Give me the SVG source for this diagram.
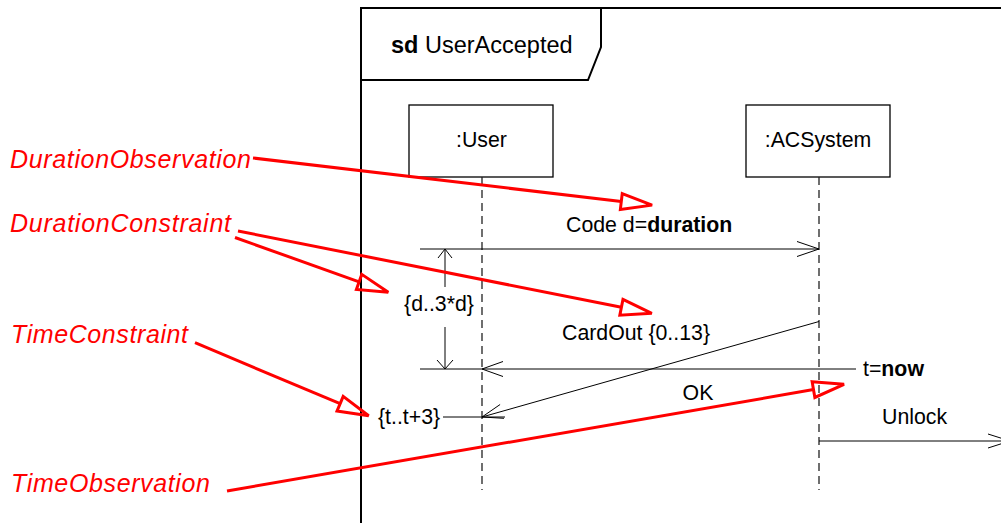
<svg xmlns="http://www.w3.org/2000/svg" width="1001" height="523" viewBox="0 0 1001 523">
<style>
.frame{fill:none;stroke:#000;stroke-width:2}
.box{fill:#fff;stroke:#000;stroke-width:1.3}
.life{stroke:#222;stroke-width:1.3;stroke-dasharray:8,5;fill:none}
.msg{stroke:#000;stroke-width:1;fill:none}
.t{font-family:"Liberation Sans",Arial,sans-serif;font-size:21.3px;fill:#000}
.b{font-weight:bold}
.note{font-family:"Liberation Sans",Arial,sans-serif;font-size:25px;font-style:italic;fill:#ff0000}
.red{stroke:#ff0000;stroke-width:3;fill:none;marker-end:url(#tri)}
</style>
<defs>
<marker id="tri" markerUnits="userSpaceOnUse" orient="auto" refX="0" refY="0" markerWidth="60" markerHeight="40" viewBox="-5 -20 60 40" overflow="visible">
<path d="M0,-8 L31,0 L0,8 Z" fill="none" stroke="#ff0000" stroke-width="3"/>
</marker>
</defs>
<rect width="1001" height="523" fill="#fff"/>
<g id="frame">
<path class="frame" d="M361,523 L361,8 L1001,8"/>
<path class="frame" d="M361,80 L588,80 L601,47 L601,8"/>
<text class="t" x="391" y="53" style="font-size:23.5px"><tspan class="b">sd</tspan> UserAccepted</text>
</g>
<g id="user">
<rect class="box" x="409" y="105" width="144" height="72"/>
<text class="t" x="481.5" y="147" text-anchor="middle">:User</text>
<line class="life" x1="482" y1="177" x2="482" y2="490"/>
</g>
<g id="acsystem">
<rect class="box" x="746" y="105" width="144" height="72"/>
<text class="t" x="818" y="147" text-anchor="middle">:ACSystem</text>
<line class="life" x1="819" y1="177" x2="819" y2="490"/>
</g>
<g id="connectors">
<line class="msg" x1="420" y1="249" x2="819" y2="249"/>
<polyline class="msg" points="797,241.5 819,249 797,256.5"/>
<text class="t" x="566" y="232">Code d=<tspan class="b">duration</tspan></text>
<line class="msg" x1="445" y1="249" x2="445" y2="287"/>
<line class="msg" x1="445" y1="327" x2="445" y2="369"/>
<polyline class="msg" points="438,258 445,249 452,258"/>
<polyline class="msg" points="437,360 445,369 453,360"/>
<text class="t" x="439" y="311" text-anchor="middle">{d..3*d}</text>
<line class="msg" x1="420" y1="369" x2="856" y2="369"/>
<polyline class="msg" points="503,361.5 482,369 503,376.5"/>
<text class="t" x="863" y="376"><tspan>t=</tspan><tspan class="b">now</tspan></text>
<line class="msg" x1="819" y1="321.5" x2="482" y2="417"/>
<polyline class="msg" points="500.1,404.5 482,417 504,418.3"/>
<text class="t" x="562" y="340">CardOut {0..13}</text>
<text class="t" x="698" y="400" text-anchor="middle">OK</text>
<line class="msg" x1="443" y1="417" x2="505" y2="417"/>
<text class="t" x="378" y="424">{t..t+3}</text>
<line class="msg" x1="819" y1="441" x2="1001" y2="441"/>
<polyline class="msg" points="988,434 1010,441 988,448"/>
<text class="t" x="882" y="424">Unlock</text>
</g>
<g id="annotations">
<text class="note" x="10" y="168" textLength="241" lengthAdjust="spacing">DurationObservation</text>
<path class="red" d="M253,158 L621.3,201.5"/>
<text class="note" x="10" y="232" textLength="221" lengthAdjust="spacing">DurationConstraint</text>
<path class="red" d="M238,231 L621.4,307.3"/>
<path class="red" d="M235,237.5 L359.1,281.9"/>
<text class="note" x="11" y="343" textLength="177" lengthAdjust="spacing">TimeConstraint</text>
<path class="red" d="M195,342.7 L340.1,403.7"/>
<text class="note" x="11" y="492" textLength="199" lengthAdjust="spacing">TimeObservation</text>
<path class="red" d="M227,491 L813.5,389.6"/>
</g>
</svg>
